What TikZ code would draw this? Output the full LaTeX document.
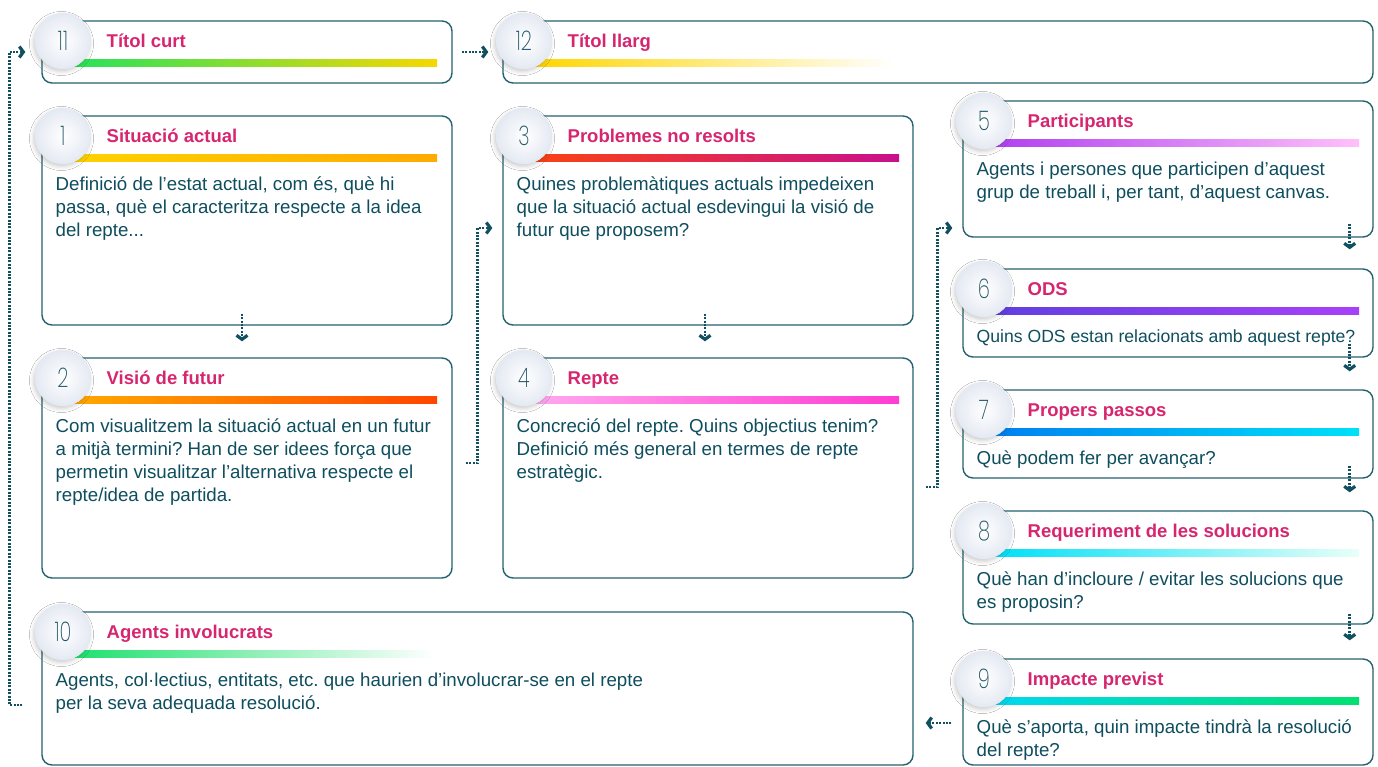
\documentclass[tikz,border=0pt]{standalone}
\usepackage{fontspec}
\setmainfont{Liberation Sans}
\newfontfamily\numfont{Poppins ExtraLight}[FakeStretch=0.72]
\usetikzlibrary{arrows.meta,calc,shadows.blur}
\frenchspacing
\definecolor{bordc}{RGB}{35,98,112}
\definecolor{textc}{RGB}{14,78,94}
\definecolor{numc}{RGB}{30,85,100}
\definecolor{titc}{RGB}{214,38,112}
\definecolor{connc}{RGB}{16,80,96}
\definecolor{circedge}{RGB}{228,233,242}
\definecolor{g11a}{RGB}{40,226,90}\definecolor{g11b}{RGB}{246,216,0}
\definecolor{g12a}{RGB}{255,214,0}
\definecolor{g1a}{RGB}{255,210,0}\definecolor{g1b}{RGB}{255,170,0}
\definecolor{g2a}{RGB}{255,168,0}\definecolor{g2b}{RGB}{255,70,0}
\definecolor{g3a}{RGB}{250,66,20}\definecolor{g3b}{RGB}{200,16,140}
\definecolor{g4a}{RGB}{255,168,240}\definecolor{g4b}{RGB}{255,60,210}
\definecolor{g5a}{RGB}{176,64,240}\definecolor{g5b}{RGB}{255,192,250}
\definecolor{g6a}{RGB}{96,64,224}\definecolor{g6b}{RGB}{168,64,250}
\definecolor{g7a}{RGB}{0,128,240}\definecolor{g7b}{RGB}{0,224,248}
\definecolor{g8a}{RGB}{0,224,248}\definecolor{g8b}{RGB}{232,255,248}
\definecolor{g9a}{RGB}{0,216,240}\definecolor{g9b}{RGB}{0,224,112}
\definecolor{g10a}{RGB}{30,224,110}
\tikzset{
  cardbox/.style={draw=bordc, line width=1.4pt, rounded corners=10pt, fill=white, inner sep=0pt},
  numcirc/.style={circle, minimum size=56pt, inner sep=0pt, inner color=white, outer color=circedge,
    draw=circedge, line width=0.4pt,
    blur shadow={shadow xshift=-1.5pt, shadow yshift=-2.5pt, shadow blur radius=4pt, shadow opacity=20},
    font=\numfont\fontsize{27}{27}\selectfont, text=numc},
  titletext/.style={font=\bfseries\fontsize{18.5}{22}\selectfont, text=titc, inner sep=0pt, anchor=base west},
  bodytext/.style={font=\fontsize{18.7}{23}\selectfont, text=textc, inner sep=0pt, anchor=base west},
  flow/.style={draw=connc, line width=2.8pt, dash pattern=on 2pt off 1.4pt,
    -{Straight Barb[length=4pt, width=11pt, line width=3.2pt]}}
}
% name, x1, y1, x2, y2, number, title, bar shading, bar end
\newcommand\card[9]{%
  \node[cardbox, minimum width={#4pt-#2pt}, minimum height={#5pt-#3pt}] (#1) at ({(#2+#4)/2},{(#3+#5)/2}) {};
  \shade[#8] ({#2+30},{#3+38}) rectangle ({#9},{#3+45});
  \node[numcirc] (#1n) at ({#2+21},{#3+20}) {#6};
  \node[titletext] (#1t) at ({#2+64.5},{#3+26}) {#7};
}
\begin{document}
\begin{tikzpicture}[x=1pt,y=-1pt]
\useasboundingbox (0,0) rectangle (1378,766);
\fill[white] (0,0) rectangle (1378,766);

\card{b11}{42}{21}{452}{83}{11}{Títol curt}{left color=g11a, right color=g11b}{437}
\card{b12}{503}{21}{1373}{83}{12}{Títol llarg}{left color=g12a, middle color=g12a!45!white, right color=white}{895}
\card{b1}{42}{116}{452}{325}{1}{Situació actual}{left color=g1a, right color=g1b}{437}
\card{b2}{42}{358}{452}{578}{2}{Visió de futur}{left color=g2a, right color=g2b}{437}
\card{b3}{503}{116}{913}{325}{3}{Problemes no resolts}{left color=g3a, right color=g3b}{899}
\card{b4}{503}{358}{913}{578}{4}{Repte}{left color=g4a, right color=g4b}{899}
\card{b10}{42}{612}{913}{765}{10}{Agents involucrats}{left color=g10a, middle color=g10a!40!white, right color=white}{435}
\card{b5}{963}{101}{1373}{237}{5}{Participants}{left color=g5a, right color=g5b}{1359}
\card{b6}{963}{269}{1373}{357}{6}{ODS}{left color=g6a, right color=g6b}{1359}
\card{b7}{963}{390}{1373}{478}{7}{Propers passos}{left color=g7a, right color=g7b}{1359}
\card{b8}{963}{511}{1373}{624}{8}{Requeriment de les solucions}{left color=g8a, right color=g8b}{1359}
\card{b9}{963}{659}{1373}{765}{9}{Impacte previst}{left color=g9a, right color=g9b}{1359}

\node[bodytext] (t1) at (55.5,190) {\vtop{\hbox{Definició de l’estat actual, com és, què hi}\hbox{passa, què el caracteritza respecte a la idea}\hbox{del repte...}}};
\node[bodytext] (t2) at (55.5,432) {\vtop{\hbox{Com visualitzem la situació actual en un futur}\hbox{a mitjà termini? Han de ser idees força que}\hbox{permetin visualitzar l’alternativa respecte el}\hbox{repte/idea de partida.}}};
\node[bodytext] (t3) at (516.5,190) {\vtop{\hbox{Quines problemàtiques actuals impedeixen}\hbox{que la situació actual esdevingui la visió de}\hbox{futur que proposem?}}};
\node[bodytext] (t4) at (516.5,432) {\vtop{\hbox{Concreció del repte. Quins objectius tenim?}\hbox{Definició més general en termes de repte}\hbox{estratègic.}}};
\node[bodytext] (t10) at (55.5,686) {\vtop{\hbox{Agents, col·lectius, entitats, etc. que haurien d’involucrar-se en el repte}\hbox{per la seva adequada resolució.}}};
\node[bodytext] (t5) at (976.5,175) {\vtop{\hbox{Agents i persones que participen d’aquest}\hbox{grup de treball i, per tant, d’aquest canvas.}}};
\node[bodytext, font=\fontsize{17.6}{22}\selectfont] (t6) at (976.5,342) {Quins ODS estan relacionats amb aquest repte?};
\node[bodytext] (t7) at (976.5,464) {Què podem fer per avançar?};
\node[bodytext] (t8) at (976.5,585) {\vtop{\hbox{Què han d’incloure / evitar les solucions que}\hbox{es proposin?}}};
\node[bodytext] (t9) at (976.5,733) {\vtop{\hbox{Què s’aporta, quin impacte tindrà la resolució}\hbox{del repte?}}};

% connectors
\draw[flow] ($(b11.east)+(9,0)$) -- ($(b12.west)+(-14,0)$);
\draw[flow] ($(b1.south)+(-5,-12)$) -- ($(b2.north)+(-5,-16)$);
\draw[flow] ($(b3.south)+(-3,-12)$) -- ($(b4.north)+(-3,-16)$);
\draw[flow] ($(b2.east)+(13,-5)$) -- ++(12,0) |- ($(b3.west)+(-10,7.5)$);
\draw[flow] ($(b4.east)+(12,19)$) -- ++(12,0) |- ($(b5.west)+(-10,59)$);
\draw[flow] ($(b5.south east)+(-24,-14)$) -- ($(b6.north east)+(-24,-19)$);
\draw[flow] ($(b6.south east)+(-24,-14)$) -- ($(b7.north east)+(-24,-18)$);
\draw[flow] ($(b7.south east)+(-24,-13)$) -- ($(b8.north east)+(-24,-18)$);
\draw[flow] ($(b8.south east)+(-24,-11)$) -- ($(b9.north east)+(-24,-18)$);
\draw[flow] ($(b9.west)+(-11,11)$) -- ($(b10.east)+(12,34.5)$);
\draw[flow] ($(b10.west)+(-19,16.5)$) -- ++(-13,0) |- ($(b11.west)+(-16,0)$);
\end{tikzpicture}
\end{document}
